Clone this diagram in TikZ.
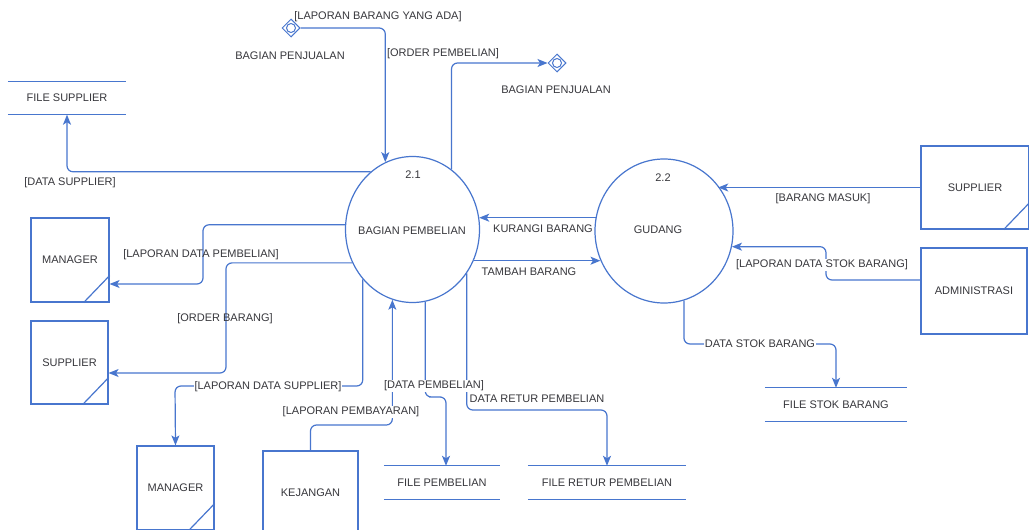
\documentclass[tikz,border=0pt]{standalone}
\usepackage{fontspec}
\setmainfont{Liberation Sans}
\usetikzlibrary{shapes.geometric,arrows.meta}
\definecolor{dfdblue}{RGB}{72,118,206}
\definecolor{dfdtext}{RGB}{55,55,60}

\begin{document}
\begin{tikzpicture}[x=1pt,y=-1pt,
    font=\fontsize{11}{13}\selectfont,
    line/.style={draw=dfdblue,line width=1.2pt},
    flow/.style={line,rounded corners=6pt,
        -{Stealth[length=10pt,width=8pt,inset=2.5pt]}},
    proc/.style={ellipse,draw=dfdblue,line width=1.2pt,inner sep=0pt},
    ent/.style={rectangle,draw=dfdblue,line width=1.2pt,text=dfdtext,inner sep=0pt},
    store/.style={rectangle,text=dfdtext,inner sep=0pt},
    term/.style={diamond,draw=dfdblue,line width=1pt,minimum size=18pt,inner sep=0pt},
    lab/.style={text=dfdtext,inner sep=1pt},
    labw/.style={lab,fill=white}]
    \clip (0,0) rectangle (1029,530);
    \fill[white] (0,0) rectangle (1029,530);

    \node[proc,minimum width=134pt,minimum height=146pt] (p21) at (412.5,229.5) {};
    \node[proc,minimum width=138pt,minimum height=144pt] (p22) at (664,231) {};
    \node[lab] (n21) at (413,175) {2.1};
    \node[lab] (t21) at (412,231) {BAGIAN PEMBELIAN};
    \node[lab] (n22) at (663,178) {2.2};
    \node[lab] (t22) at (658,230) {GUDANG};

    \foreach \n/\x/\y/\w/\h/\t in {
        m1/70/260/78/84/MANAGER, s1/69.5/362.5/77/83/SUPPLIER,
        m2/175.5/488/77/84/MANAGER, kj/310.5/493/95/84/KEJANGAN,
        s2/975/187.5/108/83/SUPPLIER, adm/974/291/106/86/ADMINISTRASI}{
        \node[ent,minimum width=\w pt,minimum height=\h pt] (\n) at (\x,\y) {\t};
    }
    \foreach \n in {m1,s1,m2,s2}{
        \draw[line] ([xshift=-26pt]\n.south east) -- ([yshift=27pt]\n.south east);
    }

    \foreach \n/\x/\y/\w/\t in {
        fs/67/98/118/FILE SUPPLIER, fsb/836/404.5/142/FILE STOK BARANG,
        fp/442/482.5/116/FILE PEMBELIAN, fr/607/482.5/158/FILE RETUR PEMBELIAN}{
        \node[store,minimum width=\w pt,minimum height=33pt] (\n) at (\x,\y) {\t};
        \draw[line] (\n.north west) -- (\n.north east)
                    (\n.south west) -- (\n.south east);
    }

    \node[term] (pj1) at (291,28) {};
    \draw[line,line width=1pt] (pj1) circle (4.5);
    \node[lab] (tpj1) at (290,56) {BAGIAN PENJUALAN};
    \node[term] (pj2) at (557,63) {};
    \draw[line,line width=1pt] (pj2) circle (4.5);
    \node[lab] (tpj2) at (556,90) {BAGIAN PENJUALAN};

    \draw[flow] (pj1.east) -| (p21.112);
    \draw[flow] (p21.57) |- (pj2.west);
    \draw[flow] (p21.126) -| (fs.south);
    \draw[flow] (p21.176) -| (203,284) -- ([yshift=-24pt]m1.east);
    \draw[flow] (p21.209) -| (226,373) -- ([yshift=-10.5pt]s1.east);
    \draw[flow] (p21.225) |- (175,386) -- (m2.north);
    \draw[flow] (kj.north) |- (350,425) -| (p21.254);
    \draw[flow] (p21.280) |- (435,397) -| ([xshift=4pt]fp.north);
    \draw[flow] (p21.321) |- (540,410) -| (fr.north);
    \draw[flow] (p22.169) -- (p22.169 -| p21.10);
    \draw[flow] (p21.333) -- (p21.333 -| p22.205);
    \draw[flow] (s2.west) -- (s2.west -| p22.40);
    \draw[flow] ([yshift=11pt]adm.west) -| (826,260) |- (p22.347);
    \draw[flow] (p22.286) |- (760,344) -| (fsb.north);

    \node[lab] (lBarangAda) at (378,17) {[LAPORAN BARANG YANG ADA]};
    \node[lab] (lOrderBeli) at (443,54) {[ORDER PEMBELIAN]};
    \node[lab] (lDataSup) at (70,183) {[DATA SUPPLIER]};
    \node[lab] (lLapBeli) at (201,255) {[LAPORAN DATA PEMBELIAN]};
    \node[lab] (lOrderBrg) at (225,319) {[ORDER BARANG]};
    \node[labw] (lLapSup) at (268,387) {[LAPORAN DATA SUPPLIER]};
    \node[labw] (lDataBeli) at (434,386) {[DATA PEMBELIAN]};
    \node[labw] (lLapBayar) at (351,412) {[LAPORAN PEMBAYARAN]};
    \node[lab] (lRetur) at (537,399) {DATA RETUR PEMBELIAN};
    \node[lab] (lKurangi) at (543,229) {KURANGI BARANG};
    \node[lab] (lTambah) at (529,272) {TAMBAH BARANG};
    \node[lab] (lMasuk) at (823,199) {[BARANG MASUK]};
    \node[labw] (lLapStok) at (822,265) {[LAPORAN DATA STOK BARANG]};
    \node[labw] (lStok) at (760,344) {DATA STOK BARANG};
\end{tikzpicture}
\end{document}
